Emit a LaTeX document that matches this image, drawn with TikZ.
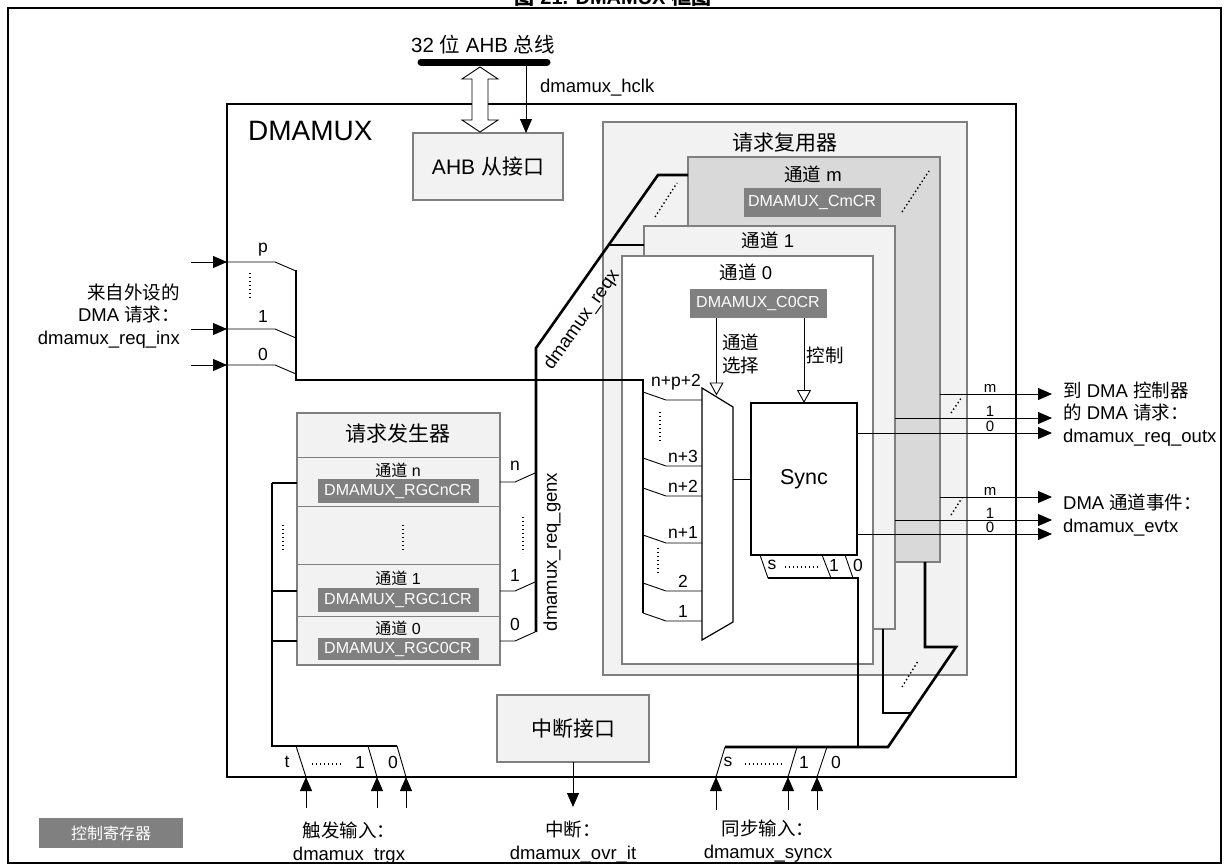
\documentclass[tikz,border=0pt]{standalone}
\usepackage{fontspec}
\setmainfont{Liberation Sans}
\newfontfamily\cjk{Noto Sans CJK SC}
\usetikzlibrary{positioning,arrows.meta}
\definecolor{boxfill}{HTML}{F2F2F2}
\definecolor{chanfill}{HTML}{D9D9D9}
\definecolor{regfill}{HTML}{808080}
\definecolor{edge}{HTML}{7F7F7F}
\newcommand{\zh}[1]{{\cjk #1}}
\newcommand{\fsz}[1]{\fontsize{#1}{#1}\selectfont}

\begin{document}
\begin{tikzpicture}[x=1pt, y=-1pt,
      blk/.style={draw=edge, line width=2pt, fill=boxfill, anchor=north west, outer sep=0pt, inner sep=0pt, font=\fsz{21}},
      chan/.style={draw=edge, line width=1.5pt, anchor=north west, outer sep=0pt, inner sep=0pt},
      reg/.style={fill=regfill, text=white, outer sep=0pt, inner sep=0pt, font=\fsz{16}},
      lbl/.style={inner sep=0pt, font=\fontsize{18.5}{22.5}\selectfont},
      sml/.style={inner sep=0pt, font=\fsz{17.5}},
      olbl/.style={inner sep=0pt, font=\fsz{15}},
      bus/.style={line width=2.6pt},
      sig/.style={line width=0.9pt},
      arr/.style={sig, -{Triangle[length=14pt, width=12pt]}},
      sel/.style={sig, -{Triangle[open, length=13pt, width=14pt]}},
      dotl/.style={line width=1.4pt, dash pattern=on 1.4pt off 2.6pt}]
    \useasboundingbox (0,0) rectangle (1226,865);
    \node[font=\bfseries\fsz{20}, anchor=base, inner sep=0pt] (title) at (613,4) {\zh{图} 21. DMAMUX \zh{框图}};
    \draw[line width=1.8pt] (8,8) rectangle (1221,863);

    \node[draw, line width=2.6pt, anchor=north west, outer sep=0pt, minimum width=789pt, minimum height=673pt] (dmamux) at (227,104) {};
    \node[font=\fsz{28}, anchor=west, inner sep=0pt] (dmamuxlbl) at (248,131) {DMAMUX};

    \coordinate (busl) at (421,62); \coordinate (busr) at (547,62);
    \draw[line width=7pt, line cap=round] (busl) -- (busr);
    \node[lbl, font=\fsz{20.5}] (buslbl) at (483,45) {32 \zh{位} AHB \zh{总线}};
    \node[blk, minimum width=150pt, minimum height=67pt] (ahb) at (413,133) {AHB \zh{从接口}};
    \coordinate (dtop) at (480,67); \coordinate (dbot) at (480,132);
    \draw[sig, fill=white] (dtop) -- ++(18,12) -- ++(-10,0) -- ++(0,41) -- ++(10,0) -- (dbot)
      -- ++(-18,-12) -- ++(10,0) -- ++(0,-41) -- ++(-10,0) -- cycle;
    \coordinate (hclk) at (526,62);
    \draw[arr] (hclk) -- (hclk |- ahb.north);
    \node[lbl, anchor=west] (hclklbl) at (540,88) {dmamux\_hclk};

    \node[blk, line width=2.5pt, minimum width=364pt, minimum height=553pt] (rmux) at (603,122) {};
    \node[font=\fsz{21}, inner sep=0pt] (rmuxlbl) at (785,143) {\zh{请求复用器}};
    \node[chan, fill=chanfill, minimum width=252pt, minimum height=405pt] (chm) at (688,157) {};
    \node[lbl] (chmlbl) at (813,174) {\zh{通道} m};
    \node[reg, minimum width=137pt, minimum height=29pt] (cmcr) at (812,202) {DMAMUX\_CmCR};
    \node[chan, fill=boxfill, minimum width=251pt, minimum height=403pt] (ch1) at (644,226) {};
    \node[lbl] (ch1lbl) at (768,240) {\zh{通道} 1};
    \node[chan, fill=white, minimum width=251pt, minimum height=408pt] (ch0) at (622,256) {};
    \node[lbl] (ch0lbl) at (746,272) {\zh{通道} 0};
    \node[reg, minimum width=137pt, minimum height=29pt] (c0cr) at (758,303) {DMAMUX\_C0CR};
    \draw[dotl] (902,212) -- (929,171);
    \draw[dotl] (655,217) -- (677,183);

    \coordinate (muxo) at (733,479);
    \draw[line width=1.2pt, fill=white] (702,388) -- (733,407) -- (733,622) -- (702,640) -- cycle;
    \node[draw, line width=2pt, anchor=north west, outer sep=0pt, minimum width=106pt, minimum height=152pt, font=\fsz{21.5}] (sync) at (751,403) {Sync};
    \draw[sel] ([xshift=27pt]c0cr.south west) -- ++(0,78);
    \node[lbl, anchor=west, align=left] (sellbl) at (722,354) {\zh{通道}\\\zh{选择}};
    \draw[sel] (sync.north |- c0cr.south) -- (sync.north);
    \node[lbl] (ctrllbl) at (825,355) {\zh{控制}};
    \draw[sig] (muxo) -- (sync.west |- muxo);

    \foreach \y/\t/\ty in {262/p/250, 329/1/316, 365/0/354} {
      \coordinate (in\t) at (191,\y);
      \draw[arr] (in\t) -- (dmamux.west |- in\t);
      \draw[sig] (dmamux.west |- in\t) -- (275,\y) -- (296,{\y+9});
      \node[sml] (inl\t) at (263,\ty) {\t};
    }
    \draw[dotl] (250,273) -- (250,300);
    \node[lbl, anchor=east, align=right] (inlbl) at (180,316) {\zh{来自外设的}\\DMA \zh{请求：}\\dmamux\_req\_inx};

    \draw[bus] (296,270) -- (296,380) -- (643,380) -- (643,613);
    \foreach \y/\t/\lx/\ly [count=\i] in {392/n+p+2/676/386, 458/n+3/683/462, 488/n+2/683/492, 535/n+1/683/538, 583/2/683/587, 613/1/683/617} {
      \draw[sig] (643,\y) -- (666,{\y+8}) -- (702,{\y+8});
      \node[sml, anchor=base] (min\i) at (\lx,\ly) {\t};
    }
    \draw[dotl] (660,412) -- (660,443);
    \draw[dotl] (658,548) -- (658,575);

    \foreach \xa/\xb in {760/768, 822/831, 845/853} \draw[sig] (\xa,555) -- (\xb,578);
    \draw[bus] (768,578) -- (858,578) -- (858,747);
    \node[sml] (sbs) at (772,565) {s};
    \node[sml] (sb1) at (834,565) {1};
    \node[sml] (sb0) at (858,565) {0};
    \draw[dotl] (785,567) -- (818,567);

    \draw[bus] (725,747) -- (888,747) -- (956,647) -- (925,647) -- (925,562);
    \draw[bus] (911,713) -- (883,713) -- (883,629);
    \draw[dotl] (902,687) -- (918,661);
    \foreach \xa/\xb/\t/\lx in {725/716/s/728, 797/788/1/804, 827/817/0/836} {
      \draw[sig] (\xa,747) -- (\xb,777);
      \coordinate (sy\t) at (\xb,810);
      \draw[arr] (sy\t) -- (sy\t |- dmamux.south);
      \node[sml] (syl\t) at (\lx,762) {\t};
    }
    \draw[dotl] (745,764) -- (783,764);
    \node[lbl, align=center] (synclbl) at (768,841) {\zh{同步输入：}\\dmamux\_syncx};

    \node[blk, minimum width=203pt, minimum height=252pt] (rgen) at (297,413) {};
    \node[font=\fsz{21}, inner sep=0pt] (rgenlbl) at (398,434) {\zh{请求发生器}};
    \foreach \y in {457,506,564,616} \draw[edge, line width=1pt] (297,\y) -- (500,\y);
    \node[font=\fsz{16}, inner sep=0pt] (rgnlbl) at (398,470) {\zh{通道} n};
    \node[reg, minimum width=161pt, minimum height=24pt] (rgncr) at (398,491) {DMAMUX\_RGCnCR};
    \draw[dotl] (403,525) -- (403,552);
    \node[font=\fsz{16}, inner sep=0pt] (rg1lbl) at (398,578) {\zh{通道} 1};
    \node[reg, minimum width=161pt, minimum height=24pt] (rg1cr) at (398,600) {DMAMUX\_RGC1CR};
    \node[font=\fsz{16}, inner sep=0pt] (rg0lbl) at (398,628) {\zh{通道} 0};
    \node[reg, minimum width=161pt, minimum height=22pt] (rg0cr) at (398,649) {DMAMUX\_RGC0CR};

    \draw[bus] (272,483) -- (272,746) -- (397,746);
    \foreach \y in {483,591,641} \draw[bus] (272,\y) -- (297,\y);
    \draw[dotl] (283,525) -- (283,551);
    \foreach \xa/\xb/\t/\lx in {296/306/t/287, 368/377/1/360, 397/406/0/393} {
      \draw[sig] (\xa,746) -- (\xb,777);
      \coordinate (tr\t) at (\xb,808);
      \draw[arr] (tr\t) -- (tr\t |- dmamux.south);
      \node[sml] (trl\t) at (\lx,762) {\t};
    }
    \draw[dotl] (312,764) -- (342,764);
    \node[lbl, align=center] (trglbl) at (349,843) {\zh{触发输入：}\\dmamux\_trgx};

    \foreach \y/\t/\ly in {482/n/466, 591/1/575, 641/0/624} {
      \draw[sig] (rgen.east |- 0,\y) -- (515,\y) -- (535,{\y-9});
      \node[sml] (rgo\t) at (515,\ly) {\t};
    }
    \draw[dotl] (523,517) -- (523,553);
    \draw[bus] (536,632) -- (536,348) -- (658,175) -- (688,175);
    \draw[bus] (610,245) -- (644,245);
    \node[lbl, rotate=54.8] (reqxlbl) at (582,320) {dmamux\_reqx};
    \node[lbl, rotate=90] (genxlbl) at (552,552) {dmamux\_req\_genx};

    \node[blk, minimum width=152pt, minimum height=67pt] (irq) at (497,695) {\zh{中断接口}};
    \coordinate (irqo) at (573,807);
    \draw[arr] (irq.south) -- (irqo);
    \node[lbl, align=center] (irqlbl) at (573,842) {\zh{中断：}\\dmamux\_ovr\_it};

    \foreach \y/\src/\t [count=\i] in {394/chm/m, 418/ch1/1, 433/sync/0, 497/chm/m, 520/ch1/1, 534/sync/0} {
      \coordinate (o\i) at (1052,\y);
      \draw[arr] (\src.east |- o\i) -- (o\i);
      \node[olbl, anchor=base] (ol\i) at (990,{\y-2}) {\t};
    }
    \draw[dotl] (951,413) -- (962,397);
    \draw[dotl] (951,515) -- (962,498);
    \node[lbl, anchor=west, align=left] (reqoutlbl) at (1063,414) {\zh{到} DMA \zh{控制器}\\\zh{的} DMA \zh{请求：}\\dmamux\_req\_outx};
    \node[lbl, anchor=west, align=left] (evtlbl) at (1063,515) {DMA \zh{通道事件：}\\dmamux\_evtx};

    \node[reg, anchor=north west, minimum width=144pt, minimum height=30pt] (legend) at (39,818) {\zh{控制寄存器}};
  \end{tikzpicture}
\end{document}
